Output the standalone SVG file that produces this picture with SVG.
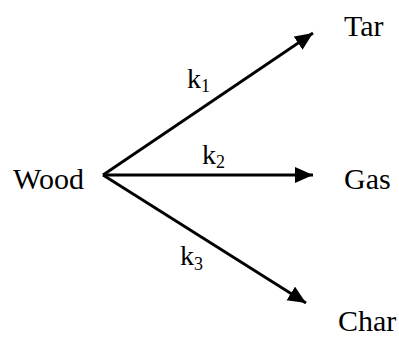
<svg xmlns="http://www.w3.org/2000/svg" width="399" height="337" viewBox="0 0 399 337">
<style>
.t{font-family:"Liberation Serif","Times New Roman",serif;font-size:30px;fill:#000}
.k{font-family:"Liberation Serif","Times New Roman",serif;font-size:28px;fill:#000}
.s{font-size:18px}
.c{stroke:#000;stroke-width:2.8;fill:none;marker-end:url(#ah)}
</style>
<defs>
<marker id="ah" markerUnits="userSpaceOnUse" markerWidth="20" markerHeight="18" refX="18" refY="8" orient="auto">
<path d="M0,0 L18,8 L0,16 Z" fill="#000"/>
</marker>
</defs>
<rect width="399" height="337" fill="#fff"/>
<g id="connectors">
<line class="c" x1="103" y1="175" x2="313" y2="33"/>
<line class="c" x1="103" y1="175" x2="313" y2="175"/>
<line class="c" x1="103" y1="175" x2="306" y2="303"/>
<text class="k" x="187" y="88">k<tspan class="s" dy="4">1</tspan></text>
<text class="k" x="202" y="164">k<tspan class="s" dy="4">2</tspan></text>
<text class="k" x="180" y="265">k<tspan class="s" dy="5">3</tspan></text>
</g>
<g id="wood"><text class="t" x="13" y="189">Wood</text></g>
<g id="tar"><text class="t" x="344" y="36">Tar</text></g>
<g id="gas"><text class="t" x="344" y="189">Gas</text></g>
<g id="char"><text class="t" x="338" y="331">Char</text></g>
</svg>
